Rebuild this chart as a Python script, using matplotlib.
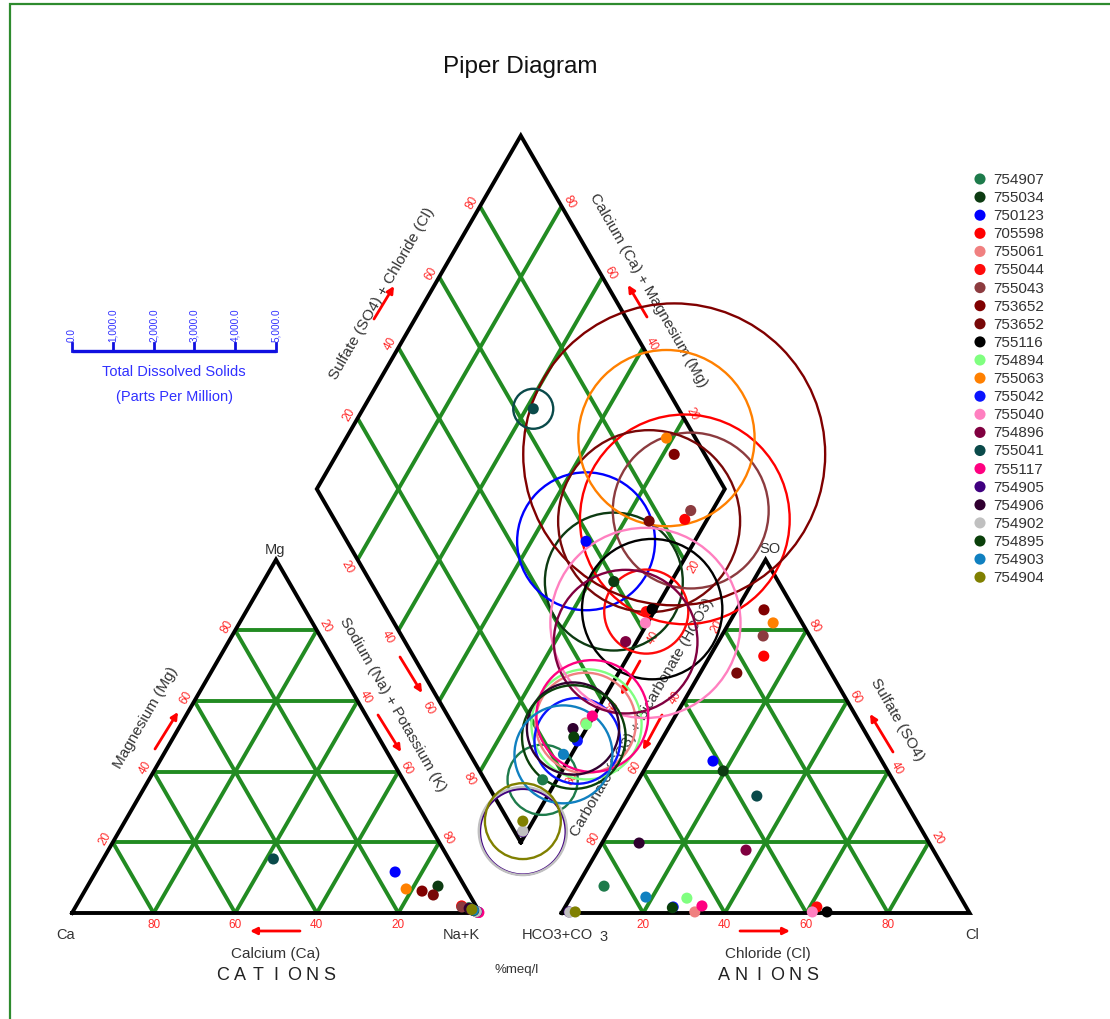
import numpy as np
import matplotlib
matplotlib.use("Agg")
import matplotlib.pyplot as plt
from matplotlib.patches import Circle, Rectangle

plt.rcParams['font.family'] = ['Liberation Sans', 'DejaVu Sans']

# ---- sample data (percent meq/l and total dissolved solids in ppm) ----
sample_ids = ["754907", "755034", "750123", "705598", "755061", "755044",
              "755043", "753652", "753652", "755116", "754894", "755063",
              "755042", "755040", "754896", "755041", "755117", "754905",
              "754906", "754902", "754895", "754903", "754904"]
sample_colors = ["#1e7b4b", "#0d3b12", "#0000ff", "#ff0000", "#f08080", "#ff0a0a",
                 "#8c3b3f", "#800000", "#780808", "#000000", "#80ff80", "#ff8000",
                 "#0a14ff", "#ff80c0", "#800040", "#0a4a4a", "#ff0080", "#400080",
                 "#300030", "#c0c0c0", "#0a400a", "#1080c0", "#808000"]
ca = [2.0, 6.5, 15.0, 3.5, 0.7, 1.2, 3.6, 11.1, 8.9, 0.5, 0.4, 14.7,
      0.3, 0.3, 1.7, 43.0, 0.2, 0.6, 2.0, 0.7, 1.2, 1.2, 1.5]
mg = [1.5, 7.6, 11.6, 2.0, 0.3, 0.7, 1.7, 6.2, 5.1, 0.3, 0.2, 6.8,
      0.2, 0.2, 1.0, 15.3, 0.15, 0.4, 1.3, 0.4, 0.7, 0.8, 1.0]
nak = [96.5, 85.9, 73.4, 94.5, 99.0, 98.1, 94.7, 82.7, 86.0, 99.2, 99.4, 78.5,
       99.5, 99.5, 97.3, 41.7, 99.65, 99.0, 96.7, 98.9, 98.1, 98.0, 97.5]
hco3 = [85.8, 40.3, 41.4, 14.1, 67.2, 36.6, 11.4, 7.5, 23.1, 34.8, 67.2, 7.1,
        71.8, 38.4, 45.9, 35.6, 64.6, 98.0, 71.1, 97.9, 72.1, 77.1, 96.5]
so4 = [7.6, 40.2, 43.0, 72.7, 0.3, 1.7, 78.4, 85.8, 67.9, 0.3, 4.2, 82.1,
       1.7, 0.3, 17.8, 33.1, 2.0, 0.3, 19.8, 0.2, 1.5, 4.5, 0.3]
cl = [6.6, 19.5, 15.6, 13.2, 32.5, 61.7, 10.2, 6.7, 9.0, 64.9, 28.6, 10.8,
      26.5, 61.3, 36.3, 31.3, 33.4, 1.7, 9.1, 1.9, 26.4, 18.4, 3.2]
tds = [860, 1690, 1690, 2570, 1230, 1030, 1910, 3700, 2230, 1720, 1350, 2160,
       1050, 2330, 1760, 490, 1370, 1050, 1130, 1080, 1270, 1200, 930]

grid_values = [20, 40, 60, 80]
tds_ticks = [0, 1000, 2000, 3000, 4000, 5000]

# ---- geometry ----
H = np.sqrt(3) / 2
SIDE = 100.0
GAP = 20.0
AN_X0 = SIDE + GAP
BOT = np.array([SIDE + GAP / 2, GAP / 2 * np.sqrt(3)])      # diamond bottom vertex
LEFT = BOT + np.array([-50, 100 * H])
TOP = BOT + np.array([0, 200 * H])
RIGHT = BOT + np.array([50, 100 * H])
PPM_PER_UNIT = 100.0                                        # circle radius scale

GRID_C = "#228b22"
LBL_C = "#ff2a2a"
TXT_C = "#333333"
TITLE_FS = 11

PX = 4.08
fig = plt.figure(figsize=(11.1, 10.2), dpi=100)
ax = fig.add_axes([0, 0, 1, 1])
ax.set_xlim(-72 / PX, (1110 - 72) / PX)
ax.set_ylim(-106 / PX, 914 / PX)
ax.axis('off')

fig.patches.append(Rectangle((10 / 1110, -0.05), 1.2, 1 - 5 / 1020 + 0.05,
                             transform=fig.transFigure, fill=False,
                             edgecolor="#2e8b2e", lw=1.6))


def seg(p, q, color, lw, z):
    ax.plot([p[0], q[0]], [p[1], q[1]], color=color, lw=lw, zorder=z,
            solid_capstyle='butt')


def tri_xy(x0, left, top, right):
    tot = left + top + right
    return x0 + 100 * (right + top / 2) / tot, 100 * top / tot * H


def draw_triangle(x0):
    for v in grid_values:
        seg((x0 + v / 2, v * H), (x0 + 100 - v / 2, v * H), GRID_C, 2.8, 2)
        seg((x0 + v, 0), (x0 + v + (100 - v) / 2, (100 - v) * H), GRID_C, 2.8, 2)
        seg((x0 + 100 - v, 0), (x0 + (100 - v) / 2, (100 - v) * H), GRID_C, 2.8, 2)
    pts = [(x0, 0), (x0 + 100, 0), (x0 + 50, 100 * H), (x0, 0)]
    ax.plot(*zip(*pts), color="black", lw=2.8, zorder=3, solid_joinstyle='miter')


draw_triangle(0)
draw_triangle(AN_X0)

# diamond
u = np.array([50, 100 * H]) / 100     # direction of increasing SO4+Cl
w = np.array([-50, 100 * H]) / 100    # direction of increasing Ca+Mg
for v in grid_values:
    seg(BOT + v * u, BOT + v * u + 100 * w, GRID_C, 2.8, 2)
    seg(BOT + v * w, BOT + v * w + 100 * u, GRID_C, 2.8, 2)
dpts = [BOT, RIGHT, TOP, LEFT, BOT]
ax.plot(*zip(*dpts), color="black", lw=2.8, zorder=3, solid_joinstyle='miter')


# ---- red edge tick labels ----
def edge_labels(p0, p1, texts, normal, dist, rot):
    p0, p1 = np.array(p0, float), np.array(p1, float)
    n = np.array(normal, float)
    n = n / np.linalg.norm(n)
    for f, t in zip([0.2, 0.4, 0.6, 0.8], texts):
        p = p0 + f * (p1 - p0) + dist * n
        ax.text(p[0], p[1], t, color=LBL_C, fontsize=8.5, rotation=rot,
                ha='center', va='center', zorder=4)


asc = [str(v) for v in grid_values]
desc = asc[::-1]
# cation triangle
edge_labels((0, 0), (100, 0), desc, (0, -1), 2.8, 0)
edge_labels((0, 0), (50, 100 * H), asc, (-H, 0.5), 2.3, 60)
edge_labels((50, 100 * H), (100, 0), asc, (H, 0.5), 2.3, -60)
# anion triangle
edge_labels((AN_X0, 0), (AN_X0 + 100, 0), asc, (0, -1), 2.8, 0)
edge_labels((AN_X0, 0), (AN_X0 + 50, 100 * H), desc, (-H, 0.5), 2.3, 60)
edge_labels((AN_X0 + 50, 100 * H), (AN_X0 + 100, 0), desc, (H, 0.5), 2.3, -60)
# diamond
edge_labels(LEFT, TOP, asc, (-H, 0.5), 2.3, 60)
edge_labels(TOP, RIGHT, desc, (H, 0.5), 2.3, -60)
edge_labels(LEFT, BOT, asc, (-H, -0.5), 3.0, -60)
edge_labels(BOT, RIGHT, desc, (H, -0.5), 3.0, 60)


# ---- axis titles, corner names ----
def dtext(px, py, s, **kw):
    kw.setdefault('ha', 'center')
    kw.setdefault('va', 'center')
    ax.text((px - 72) / PX, (914 - py) / PX, s, **kw)


dtext(146, 718, "Magnesium (Mg)", rotation=60, fontsize=TITLE_FS, color=TXT_C)
dtext(393, 705, "Sodium (Na) + Potassium (K)", rotation=-60, fontsize=TITLE_FS, color=TXT_C)
dtext(382, 294, "Sulfate (SO4) + Chloride (Cl)", rotation=60, fontsize=TITLE_FS, color=TXT_C)
dtext(648, 290, "Calcium (Ca) + Magnesium (Mg)", rotation=-60, fontsize=TITLE_FS, color=TXT_C)
dtext(642, 717, "Carbonate (CO3) + Bicarbonate (HCO3)", rotation=60, fontsize=TITLE_FS, color=TXT_C)
dtext(897, 720, "Sulfate (SO4)", rotation=-60, fontsize=TITLE_FS, color=TXT_C)
dtext(276, 954, "Calcium (Ca)", fontsize=TITLE_FS, color=TXT_C)
dtext(768, 954, "Chloride (Cl)", fontsize=TITLE_FS, color=TXT_C)
dtext(517, 970, "%meq/l", fontsize=9.5, color=TXT_C)
dtext(66, 935, "Ca", fontsize=10.5, color=TXT_C)
dtext(461, 935, "Na+K", fontsize=10.5, color=TXT_C)
dtext(522, 935, "HCO3+CO", fontsize=10.5, color=TXT_C, ha='left')
dtext(604, 937, "3", fontsize=10.5, color=TXT_C)
dtext(972, 935, "Cl", fontsize=10.5, color=TXT_C)
dtext(275, 550, "Mg", fontsize=10.5, color=TXT_C)
dtext(770, 549, "SO", fontsize=10.5, color=TXT_C)

# spaced block captions under each triangle
for word, cx in (("CATIONS", 276), ("ANIONS", 768)):
    step = 17.8
    x_first = cx - step * (len(word) - 1) / 2
    for k, ch in enumerate(word):
        dtext(x_first + k * step, 976, ch, fontsize=13, color="#222222")

fig.text(520 / 1110, 1 - 67 / 1020, "Piper Diagram", ha='center', va='center',
         fontsize=17.5, color="#111111")


# ---- red direction arrows ----
def arrow(p_from, p_to):
    a = ((p_from[0] - 72) / PX, (914 - p_from[1]) / PX)
    b = ((p_to[0] - 72) / PX, (914 - p_to[1]) / PX)
    ax.annotate("", xy=b, xytext=a, zorder=4,
                arrowprops=dict(arrowstyle='-|>', color='red', lw=2.0,
                                mutation_scale=10, shrinkA=0, shrinkB=0))


arrow((300, 932), (250, 932))
arrow((740, 932), (790, 932))
arrow((155, 750), (178, 713))
arrow((400, 658), (422, 694))
arrow((378, 716), (401, 753))
arrow((374, 320), (394, 287))
arrow((647, 318), (628, 286))
arrow((640, 662), (621, 696))
arrow((662, 716), (643, 751))
arrow((893, 753), (870, 715))

# ---- TDS scale bar ----
TDS_C = "#1010e0"
bar_y = (914 - 352) / PX
ax.plot([tds_ticks[0] / PPM_PER_UNIT, tds_ticks[-1] / PPM_PER_UNIT], [bar_y, bar_y],
        color=TDS_C, lw=2.4, solid_capstyle='butt', zorder=4)
for t in tds_ticks:
    xt = t / PPM_PER_UNIT
    ax.plot([xt, xt], [bar_y, bar_y + 2.0], color=TDS_C, lw=2.0, zorder=4)
    ax.text(xt, bar_y + 2.4, f"{t:,.1f}", rotation=90, ha='center', va='bottom',
            fontsize=7.2, color="#3030ff")
mid = (tds_ticks[0] + tds_ticks[-1]) / 2 / PPM_PER_UNIT
ax.text(mid, (914 - 372) / PX, "Total Dissolved Solids", ha='center', va='center',
        fontsize=10.5, color="#3030ff")
ax.text(mid, (914 - 397) / PX, "(Parts Per Million)", ha='center', va='center',
        fontsize=10.5, color="#3030ff")

# ---- samples ----
n = len(sample_ids)
for i in range(n):
    col = sample_colors[i]
    cx, cy = tri_xy(0, ca[i], mg[i], nak[i])
    axx, ayy = tri_xy(AN_X0, hco3[i], so4[i], cl[i])
    c_pct = 100 * (ca[i] + mg[i]) / (ca[i] + mg[i] + nak[i])
    a_pct = 100 * (so4[i] + cl[i]) / (hco3[i] + so4[i] + cl[i])
    p = BOT + a_pct * u + c_pct * w
    ax.add_patch(Circle((p[0], p[1]), tds[i] / PPM_PER_UNIT, fill=False,
                        edgecolor=col, lw=1.7, zorder=5))
    ax.scatter([cx, axx, p[0]], [cy, ayy, p[1]], s=64, color=col,
               edgecolors='none', zorder=6 + i * 0.01)

# ---- legend ----
for i in range(n):
    ly = (914 - (180 + 18.1 * i)) / PX
    ax.scatter([(980 - 72) / PX], [ly], s=64, color=sample_colors[i],
               edgecolors='none', zorder=6)
    ax.text((993 - 72) / PX, ly, sample_ids[i], ha='left', va='center',
            fontsize=11, color="#333333")

fig.savefig("out.png", dpi=100)
